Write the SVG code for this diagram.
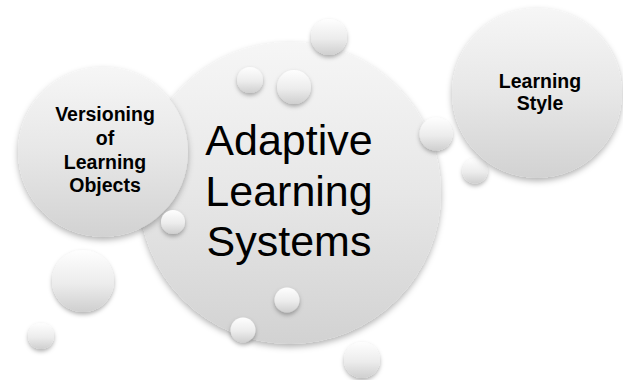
<svg xmlns="http://www.w3.org/2000/svg" width="623" height="380" viewBox="0 0 623 380">
  <defs>
    <linearGradient id="gBig" x1="0" y1="0" x2="0" y2="1">
      <stop offset="0" stop-color="#f6f6f6"/>
      <stop offset="0.5" stop-color="#e7e7e7"/>
      <stop offset="1" stop-color="#d2d2d2"/>
    </linearGradient>
    <linearGradient id="gBub" x1="0" y1="0" x2="0" y2="1">
      <stop offset="0" stop-color="#fefefe"/>
      <stop offset="0.55" stop-color="#ececec"/>
      <stop offset="1" stop-color="#cfcfcf"/>
    </linearGradient>
    <filter id="sh" x="-30%" y="-30%" width="160%" height="170%">
      <feDropShadow dx="0" dy="3" stdDeviation="3" flood-color="#000" flood-opacity="0.3"/>
    </filter>
    <filter id="shS" x="-40%" y="-40%" width="180%" height="190%">
      <feDropShadow dx="0" dy="2.5" stdDeviation="2" flood-color="#000" flood-opacity="0.3"/>
    </filter>
  </defs>
  <style>
    .big { fill: url(#gBig); filter: url(#sh); }
    .bub { fill: url(#gBub); filter: url(#shS); }
    .t1 { font-family: "Liberation Sans", Arial, sans-serif; font-size: 43px; fill: #000; text-anchor: middle; }
    .t2 { font-family: "Liberation Sans", Arial, sans-serif; font-size: 19.5px; font-weight: bold; fill: #000; text-anchor: middle; }
  </style>
  <rect width="623" height="380" fill="#fff"/>

  <g id="bubbles-back">
    <circle class="bub" cx="83" cy="281" r="31"/>
    <circle class="bub" cx="41" cy="336" r="13"/>
    <circle class="bub" cx="362" cy="360" r="18"/>
    <circle class="bub" cx="475" cy="171" r="12.5"/>
  </g>

  <g id="node-adaptive">
    <circle class="big" cx="290" cy="193" r="151"/>
    <text class="t1" x="289" y="155">Adaptive</text>
    <text class="t1" x="289" y="206">Learning</text>
    <text class="t1" x="289" y="256">Systems</text>
  </g>

  <g id="node-versioning">
    <circle class="big" cx="103" cy="152" r="85"/>
    <text class="t2" x="105" y="121">Versioning</text>
    <text class="t2" x="105" y="145">of</text>
    <text class="t2" x="105" y="169">Learning</text>
    <text class="t2" x="105" y="192">Objects</text>
  </g>

  <g id="node-style">
    <circle class="big" cx="537" cy="93" r="85"/>
    <text class="t2" x="540" y="88">Learning</text>
    <text class="t2" x="540" y="110">Style</text>
  </g>

  <g id="bubbles-front">
    <circle class="bub" cx="329" cy="37" r="18"/>
    <circle class="bub" cx="250" cy="80" r="13"/>
    <circle class="bub" cx="294" cy="87" r="17"/>
    <circle class="bub" cx="436" cy="134" r="16.5"/>
    <circle class="bub" cx="173" cy="222" r="12"/>
    <circle class="bub" cx="287" cy="300" r="12.5"/>
    <circle class="bub" cx="243" cy="330" r="12.5"/>
  </g>
</svg>
